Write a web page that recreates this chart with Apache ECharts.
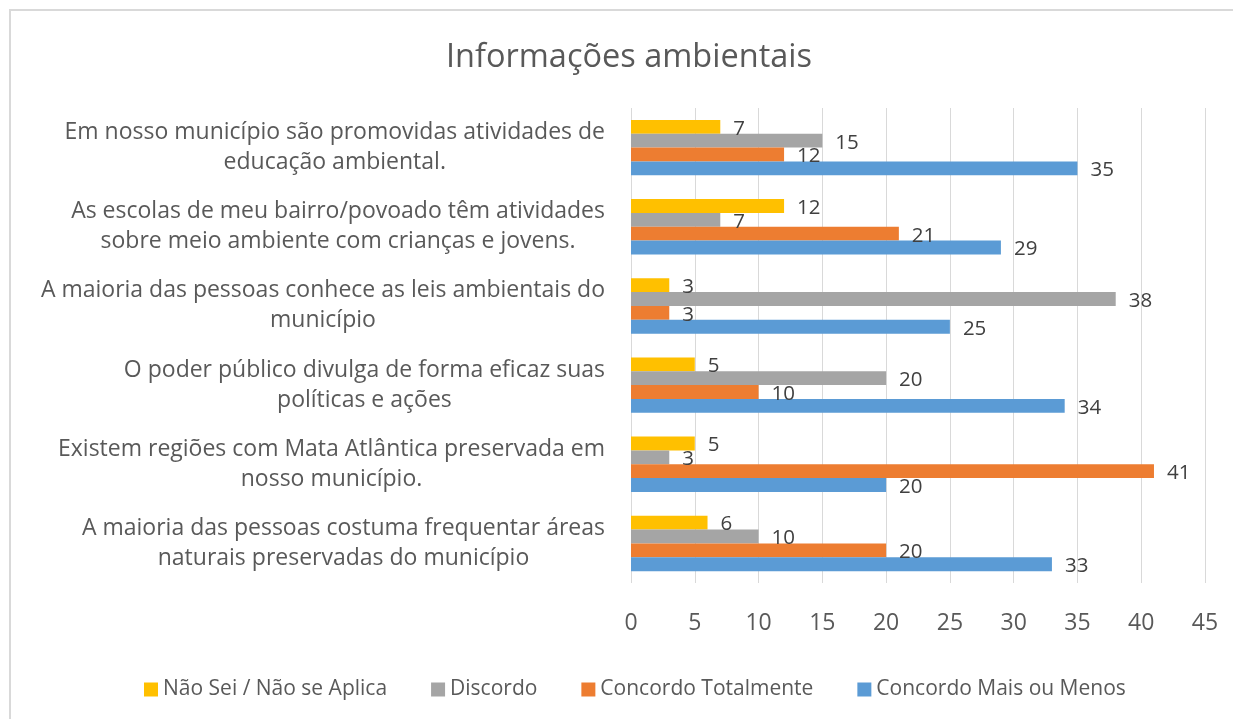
<!DOCTYPE html>
<html>
<head>
<meta charset="utf-8">
<script src="https://cdn.jsdelivr.net/npm/echarts@6/dist/echarts.min.js"></script>
<style>
  html, body { margin: 0; padding: 0; background: #fff; }
  #main { width: 1233px; height: 719px; }
</style>
</head>
<body>
<div id="main"></div>
<script>
var categorias = [
  'Em nosso município são promovidas atividades de\neducação ambiental.',
  'As escolas de meu bairro/povoado têm atividades\nsobre meio ambiente com crianças e jovens.',
  'A maioria das pessoas conhece as leis ambientais do\nmunicípio',
  'O poder público divulga de forma eficaz suas\npolíticas e ações',
  'Existem regiões com Mata Atlântica preservada em\nnosso município.',
  'A maioria das pessoas costuma frequentar áreas\nnaturais preservadas do município'
];
var naoSei = [7, 12, 3, 5, 5, 6];
var discordo = [15, 7, 38, 20, 3, 10];
var concordoTotalmente = [12, 21, 3, 10, 41, 20];
var concordoMaisMenos = [35, 29, 25, 34, 20, 33];

var nomes = ['Não Sei / Não se Aplica', 'Discordo', 'Concordo Totalmente', 'Concordo Mais ou Menos'];
var cores = ['#FFC000', '#A5A5A5', '#ED7D31', '#5B9BD5'];
var valores = [naoSei, discordo, concordoTotalmente, concordoMaisMenos];

var fonte = '"Open Sans", Lato, sans-serif';
var chart = echarts.init(document.getElementById('main'));

var series = nomes.map(function (n, i) {
  return {
    name: n,
    type: 'bar',
    data: valores[i],
    barGap: '0%',
    barCategoryGap: '30%',
    itemStyle: { color: cores[i] },
    label: {
      show: true,
      position: 'right',
      distance: 13,
      offset: [0, 2],
      color: '#404040',
      fontSize: 20.5,
      fontFamily: fonte
    }
  };
});

var option = {
  animation: false,
  backgroundColor: '#fff',
  graphic: [{
    type: 'rect',
    shape: { x: 10, y: 10, width: 1300, height: 800 },
    style: { fill: 'none', stroke: '#d9d9d9', lineWidth: 2 }
  }],
  title: {
    text: 'Informações ambientais',
    left: 441,
    top: 36,
    textStyle: { color: '#595959', fontSize: 32.5, fontWeight: 'normal', fontFamily: fonte }
  },
  legend: {
    bottom: 14,
    left: 139,
    itemWidth: 14,
    itemHeight: 14,
    itemGap: 44,
    icon: 'rect',
    textStyle: { color: '#595959', fontSize: 21, fontFamily: fonte }
  },
  grid: { left: 631, right: 28, top: 108, bottom: 136, containLabel: false },
  xAxis: {
    type: 'value',
    min: 0,
    max: 45,
    interval: 5,
    axisLine: { show: false },
    axisTick: { show: false },
    splitLine: { lineStyle: { color: '#d9d9d9', width: 1 } },
    axisLabel: { color: '#595959', fontSize: 23, fontFamily: fonte, margin: 29 }
  },
  yAxis: {
    type: 'category',
    inverse: true,
    data: categorias,
    axisLine: { show: false },
    axisTick: { show: false },
    axisLabel: {
      margin: 26,
      formatter: function (v) {
        return v.split('\n').map(function (l) { return '{c|' + l + '}'; }).join('\n');
      },
      rich: {
        c: { align: 'center', color: '#595959', fontSize: 23, lineHeight: 30, fontFamily: fonte }
      }
    }
  },
  series: series
};

chart.setOption(option);
</script>
</body>
</html>
